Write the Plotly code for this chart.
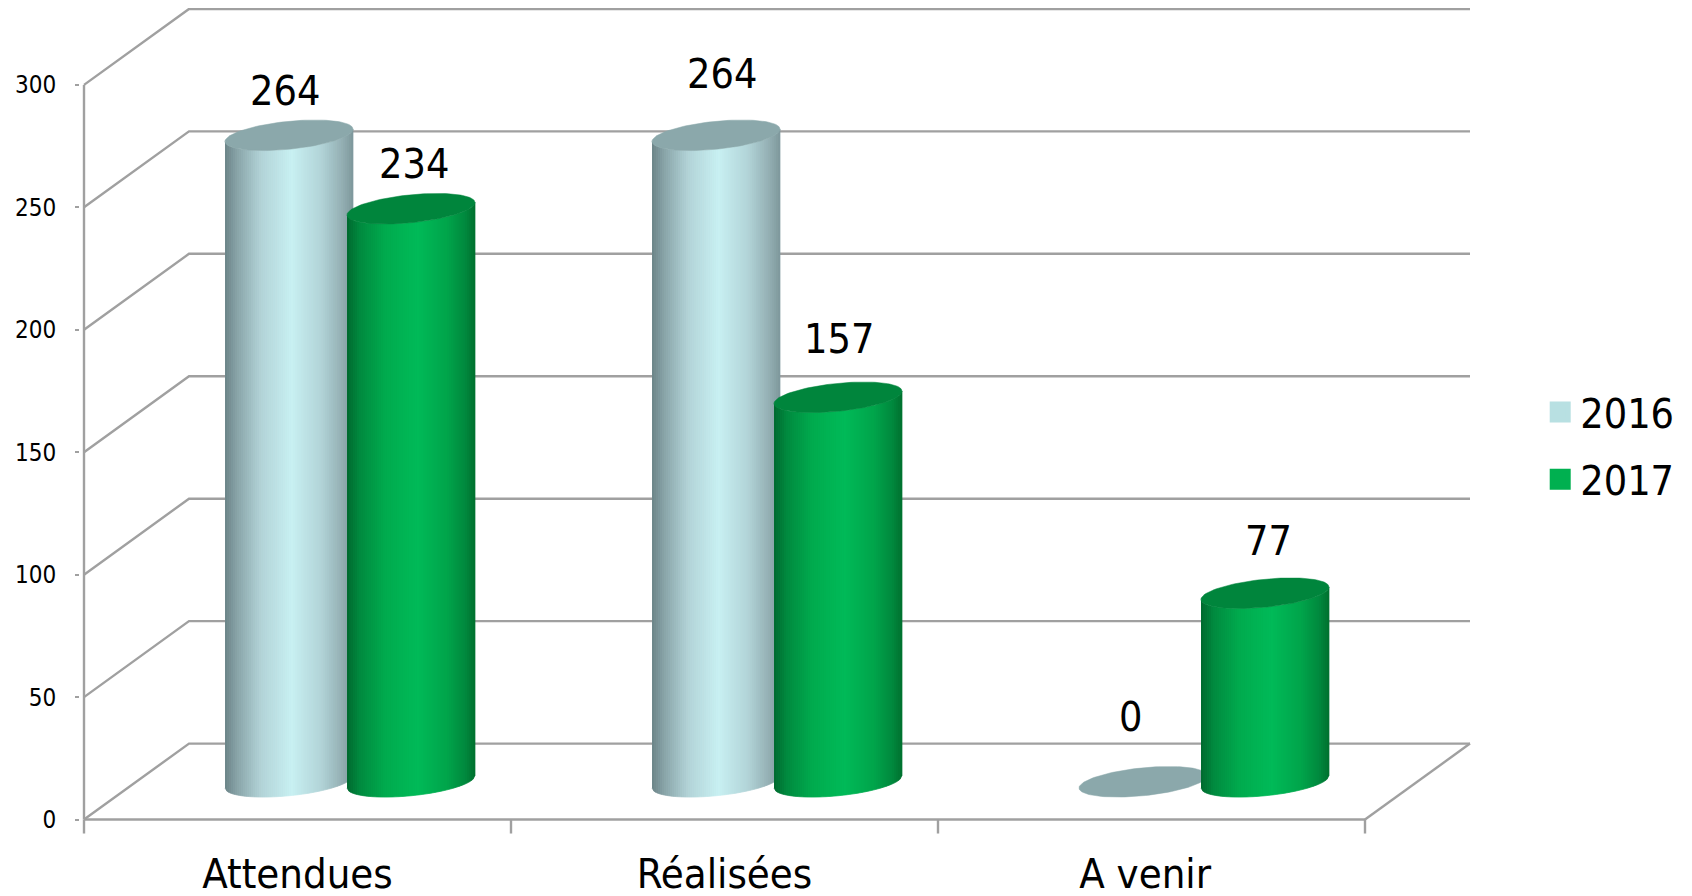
import numpy as np
import plotly.graph_objects as go

# ---- data ----
categories = ["Attendues", "Réalisées", "A venir"]
series_names = ["2016", "2017"]
values_2016 = [264, 264, 0]
values_2017 = [234, 157, 77]
y_ticks = [0, 50, 100, 150, 200, 250, 300]

# ---- geometry (pixels per unit, then converted to axis units) ----
PX_X, PX_Y = 427.0, 2.45
DEPTH_X, DEPTH_Y = 105 / PX_X, 76 / PX_Y
HALF_W = 64 / PX_X
SERIES_OFF = 61 / PX_X
SHEAR = 6.2 / PX_Y
MINOR = 14.0 / PX_Y
BASE = 37.8 / PX_Y
N_CAT = len(categories)
FONT = "DejaVu Sans Condensed, DejaVu Sans, sans-serif"
GREY = "#a0a0a0"

styles = {
    "2016": dict(
        top="#8ba8ab", legend="#b8e0e2",
        stops=[(0, "#6c8488"), (0.10, "#8aa6aa"), (0.28, "#b2d3d7"), (0.52, "#c8f0f2"),
               (0.75, "#b2d4d8"), (0.92, "#93aeb2"), (1, "#7e989c")],
    ),
    "2017": dict(
        top="#00853c", legend="#00b050",
        stops=[(0, "#006a2f"), (0.10, "#008a3f"), (0.30, "#00ab4e"), (0.55, "#00ba58"),
               (0.78, "#00a54b"), (0.92, "#008a3e"), (1, "#00702f")],
    ),
}


def mix(stops, t):
    for (t0, c0), (t1, c1) in zip(stops, stops[1:]):
        if t <= t1:
            f = (t - t0) / (t1 - t0)
            rgb = [round(int(c0[i:i + 2], 16) * (1 - f) + int(c1[i:i + 2], 16) * f) for i in (1, 3, 5)]
            return "rgb(%d,%d,%d)" % tuple(rgb)
    return stops[-1][1]


fig = go.Figure()

# ---- walls and floor ----
gx, gy = [], []
x_end = N_CAT
for v in y_ticks:
    gx += [0, DEPTH_X, x_end + DEPTH_X, None]
    gy += [v, v + DEPTH_Y, v + DEPTH_Y, None]
gx += [0, 0, None, 0, x_end, None, x_end, x_end + DEPTH_X, None]
gy += [0, y_ticks[-1], None, 0, 0, None, 0, DEPTH_Y, None]
for k in range(N_CAT + 1):
    gx += [k, k, None]
    gy += [0, -5.7, None]
fig.add_trace(go.Scatter(x=gx, y=gy, mode="lines", line=dict(color=GREY, width=2.4),
                         hoverinfo="skip", showlegend=False))


def cylinder(cx, value, style):
    bottom = BASE
    top = BASE + value
    if value > 0:
        edges = np.linspace(-1, 1, 65)
        for u0, u1 in zip(edges[:-1], edges[1:]):
            low0 = SHEAR * u0 - MINOR * np.sqrt(1 - u0 ** 2)
            low1 = SHEAR * u1 - MINOR * np.sqrt(1 - u1 ** 2)
            fig.add_trace(go.Scatter(
                x=[cx + HALF_W * u0, cx + HALF_W * u1, cx + HALF_W * u1, cx + HALF_W * u0],
                y=[bottom + low0, bottom + low1, top + low1, top + low0],
                mode="lines", fill="toself", fillcolor=mix(style["stops"], (u0 + u1 + 2) / 4),
                line=dict(width=0.7, color=mix(style["stops"], (u0 + u1 + 2) / 4)),
                hoverinfo="skip", showlegend=False))
    t = np.linspace(0, 2 * np.pi, 120)
    fig.add_trace(go.Scatter(
        x=cx + HALF_W * np.cos(t),
        y=top + SHEAR * np.cos(t) + MINOR * np.sin(t),
        mode="lines", fill="toself", fillcolor=style["top"],
        line=dict(width=0.5, color=style["top"]),
        hoverinfo="skip", showlegend=False))


# ---- cylinders and value labels ----
label_dx = {"2016": [-4, 6, -13], "2017": [3, 1, 3]}
label_dy = {"2016": [44, 61, 65], "2017": [45, 58, 52]}
for i in range(N_CAT):
    mid = i + 0.5 + DEPTH_X / 2
    for name, vals, sign in (("2016", values_2016, -1), ("2017", values_2017, 1)):
        cx = mid + sign * SERIES_OFF
        cylinder(cx, vals[i], styles[name])
        fig.add_annotation(x=cx, y=BASE + vals[i], text=str(vals[i]), showarrow=False,
                           xshift=label_dx[name][i], yshift=label_dy[name][i],
                           font=dict(family=FONT, size=41, color="#000000"))

# ---- legend entries ----
for name in series_names:
    c = styles[name]["legend"]
    fig.add_trace(go.Scatter(x=[None], y=[None], mode="markers", name=name, legendgroup=name,
                             marker=dict(symbol="square", size=16, color=c, line=dict(color=c, width=5))))

fig.update_layout(
    width=1692, height=896,
    margin=dict(l=80, r=220, t=7.5, b=62, pad=0),
    plot_bgcolor="#ffffff", paper_bgcolor="#ffffff",
    font=dict(family=FONT, color="#000000"),
    xaxis=dict(range=[-4 / PX_X, 3 + 107 / PX_X], tickmode="array", automargin=False,
               tickvals=[0.5, 1.5, 2.485], ticktext=categories,
               ticks="", showgrid=False, zeroline=False, showline=False,
               tickfont=dict(size=41.5), ticklabelstandoff=11),
    yaxis=dict(range=[-5.9, 331.4], tickmode="array", tickvals=y_ticks, automargin=False,
               ticks="outside", ticklen=4, tickwidth=2.4, tickcolor=GREY,
               showgrid=False, zeroline=False, showline=False,
               tickfont=dict(size=24), ticklabelstandoff=14),
    legend=dict(x=1.049, y=0.47, xanchor="left", yanchor="middle", itemsizing="trace",
                font=dict(size=41), tracegroupgap=11, bgcolor="rgba(0,0,0,0)"),
)

fig.write_html("out.html", post_script="document.body.style.margin='0';",
               config={"displayModeBar": False})
